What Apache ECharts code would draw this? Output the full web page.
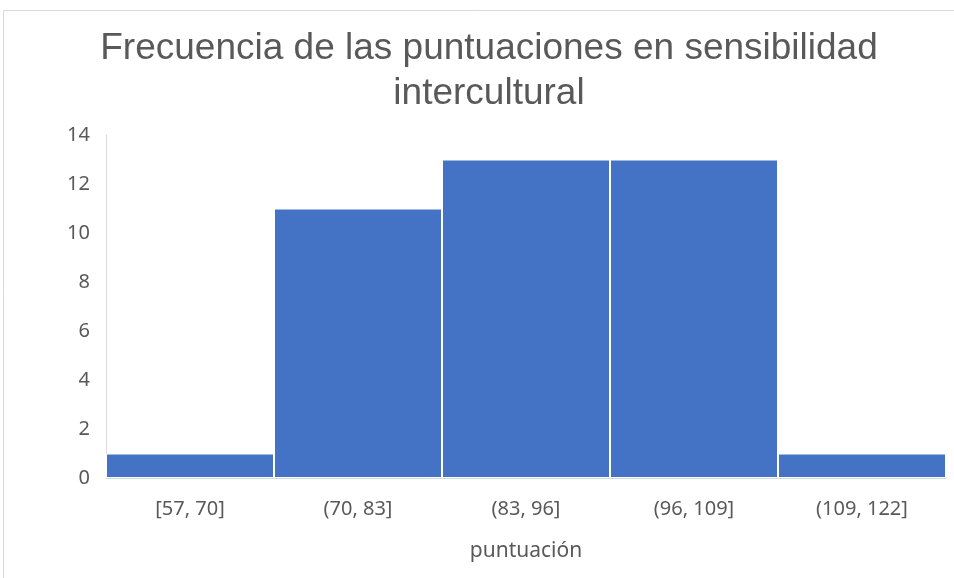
<!DOCTYPE html>
<html>
<head>
<meta charset="utf-8">
<script src="https://cdn.jsdelivr.net/npm/echarts@6/dist/echarts.min.js"></script>
<style>
  html, body { margin: 0; padding: 0; background: #fff; }
  #main { width: 954px; height: 578px; }
</style>
</head>
<body>
<div id="main"></div>
<script>
// intervalos de puntuación y frecuencias
var categorias = ['[57, 70]', '(70, 83]', '(83, 96]', '(96, 109]', '(109, 122]'];
var frecuencias = [1, 11, 13, 13, 1];
var yMax = 14;
var yPaso = 2;

var myChart = echarts.init(document.getElementById('main'));
var option = {
  backgroundColor: '#fff',
  animation: false,
  title: {
    text: 'Frecuencia de las puntuaciones en sensibilidad\nintercultural',
    left: 484,
    top: 21,
    textAlign: 'center',
    textStyle: {
      fontFamily: 'Liberation Sans',
      fontSize: 37,
      fontWeight: 'normal',
      color: '#595959',
      lineHeight: 45
    }
  },
  grid: {
    left: 106,
    right: 8,
    top: 135,
    bottom: 100
  },
  // marco del gráfico (arriba e izquierda)
  graphic: [
    {
      type: 'polyline',
      shape: { points: [[3.5, 578], [3.5, 10.5], [954, 10.5]] },
      style: { stroke: '#d9d9d9', lineWidth: 1, fill: null }
    }
  ],
  xAxis: {
    type: 'category',
    data: categorias,
    name: 'puntuación',
    nameLocation: 'middle',
    nameGap: 63,
    nameTextStyle: { fontFamily: 'Noto Sans', fontSize: 21, color: '#595959' },
    axisLine: { lineStyle: { color: '#d9d9d9' } },
    axisTick: { show: false },
    axisLabel: { fontFamily: 'Noto Sans', fontSize: 20, color: '#595959', margin: 21 }
  },
  yAxis: {
    type: 'value',
    min: 0,
    max: yMax,
    interval: yPaso,
    axisLine: { show: true, lineStyle: { color: '#d9d9d9' } },
    axisTick: { show: false },
    splitLine: { show: false },
    axisLabel: { fontFamily: 'Noto Sans', fontSize: 20, color: '#595959', margin: 16 }
  },
  series: [
    {
      type: 'bar',
      data: frecuencias,
      barCategoryGap: '0%',
      itemStyle: {
        color: '#4472c4',
        borderColor: '#ffffff',
        borderWidth: 1
      }
    }
  ]
};
myChart.setOption(option);
</script>
</body>
</html>
